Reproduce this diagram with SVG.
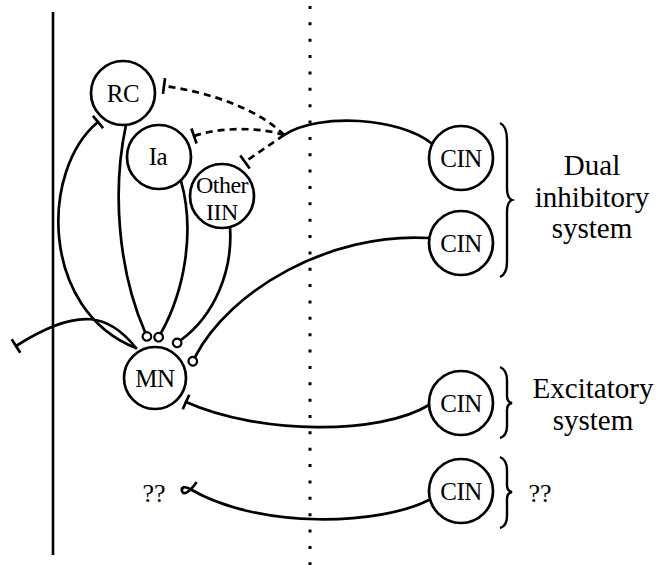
<svg xmlns="http://www.w3.org/2000/svg" width="658" height="565" viewBox="0 0 658 565">
<style>
.n{fill:#fff;stroke:#000;stroke-width:2.7}
.t{font-family:"Liberation Serif","Times New Roman",serif;font-size:25px;text-anchor:middle;fill:#000;letter-spacing:-0.5px}
.s{font-size:24px}
.l{font-family:"Liberation Serif","Times New Roman",serif;font-size:29px;text-anchor:middle;fill:#000}
.c{fill:none;stroke:#000;stroke-width:2.7;stroke-linecap:round}
.d{fill:none;stroke:#000;stroke-width:2.7;stroke-dasharray:7 5}
.b{fill:none;stroke:#000;stroke-width:2.4}
</style>
<defs>
<marker id="bar" markerUnits="userSpaceOnUse" viewBox="-3 -9 6 18" markerWidth="6" markerHeight="18" refX="0" refY="0" orient="auto"><line x1="0" y1="-8" x2="0" y2="8" stroke="#000" stroke-width="2.7"/></marker>
<marker id="syn" markerUnits="userSpaceOnUse" viewBox="-1 -6 12 12" markerWidth="12" markerHeight="12" refX="0" refY="0" orient="auto"><circle cx="4.8" cy="0" r="4.3" fill="#fff" stroke="#000" stroke-width="2.2"/></marker>
</defs>
<rect width="658" height="565" fill="#fff"/>
<g id="midline">
<line x1="53" y1="12" x2="53" y2="555" stroke="#000" stroke-width="2.6"/>
<line x1="310" y1="6" x2="310" y2="565" stroke="#000" stroke-width="3" stroke-dasharray="3 13.36"/>
</g>
<g id="connectors">
<path class="c" d="M136,348 C40,310 40,170 98,122" marker-end="url(#bar)"/>
<path class="c" d="M136,348 C110,315 80,305 16,346" marker-end="url(#bar)"/>
<path class="c" d="M126,125 C112,190 118,270 145,332" marker-end="url(#syn)"/>
<path class="c" d="M181,181 C195,230 185,290 161,333" marker-end="url(#syn)"/>
<path class="c" d="M230,227 C233,270 215,315 181,340" marker-end="url(#syn)"/>
<path class="c" d="M429,238 C330,232 230,290 195,357" marker-end="url(#syn)"/>
<path class="c" d="M429,405 C380,435 260,435 186,402" marker-end="url(#bar)"/>
<path class="c" d="M431,143 C400,118 320,112 284,135"/>
<path class="d" d="M284,135 C260,110 210,92 164,86" marker-end="url(#bar)"/>
<path class="d" d="M284,135 C260,127 220,127 194,136" marker-end="url(#bar)"/>
<path class="d" d="M284,135 C270,145 256,154 245,162" marker-end="url(#bar)"/>
<path class="c" d="M429,500 C380,525 260,530 190,489 C185,486 181,487 182,491 C183,495 188,494 196,483"/>
</g>
<g id="RC"><circle class="n" cx="123" cy="93" r="32"/><text class="t" x="123" y="102">RC</text></g>
<g id="Ia"><circle class="n" cx="159" cy="157" r="32"/><text class="t" x="158" y="165">Ia</text></g>
<g id="IIN"><circle class="n" cx="222" cy="196" r="32"/><text class="t s" x="222" y="193">Other</text><text class="t s" x="222" y="220">IIN</text></g>
<g id="MN"><circle class="n" cx="155" cy="378" r="31"/><text class="t" x="155" y="387">MN</text></g>
<g id="CIN1"><circle class="n" cx="461" cy="158" r="32"/><text class="t" x="461" y="167">CIN</text></g>
<g id="CIN2"><circle class="n" cx="461" cy="243" r="32"/><text class="t" x="461" y="252">CIN</text></g>
<g id="CIN3"><circle class="n" cx="461" cy="403" r="32"/><text class="t" x="461" y="412">CIN</text></g>
<g id="CIN4"><circle class="n" cx="461" cy="491" r="32"/><text class="t" x="461" y="500">CIN</text></g>
<g id="brackets">
<path class="b" d="M500,123 Q507,126 507,140 L507,188 Q507,198 512,200 Q507,202 507,212 L507,262 Q507,274 500,277"/>
<path class="b" d="M500,367 Q507,370 507,380 L507,396 Q507,402 512,403 Q507,404 507,410 L507,426 Q507,436 500,438"/>
<path class="b" d="M500,457 Q507,460 507,470 L507,485 Q507,491 512,492 Q507,493 507,499 L507,516 Q507,526 500,528"/>
</g>
<g id="labels">
<text class="l" x="592" y="175">Dual</text>
<text class="l" x="592" y="207">inhibitory</text>
<text class="l" x="592" y="238">system</text>
<text class="l" x="593" y="398">Excitatory</text>
<text class="l" x="593" y="430">system</text>
<text class="l" x="154" y="502" style="font-size:26px">??</text>
<text class="l" x="540" y="502" style="font-size:26px">??</text>
</g>
</svg>
